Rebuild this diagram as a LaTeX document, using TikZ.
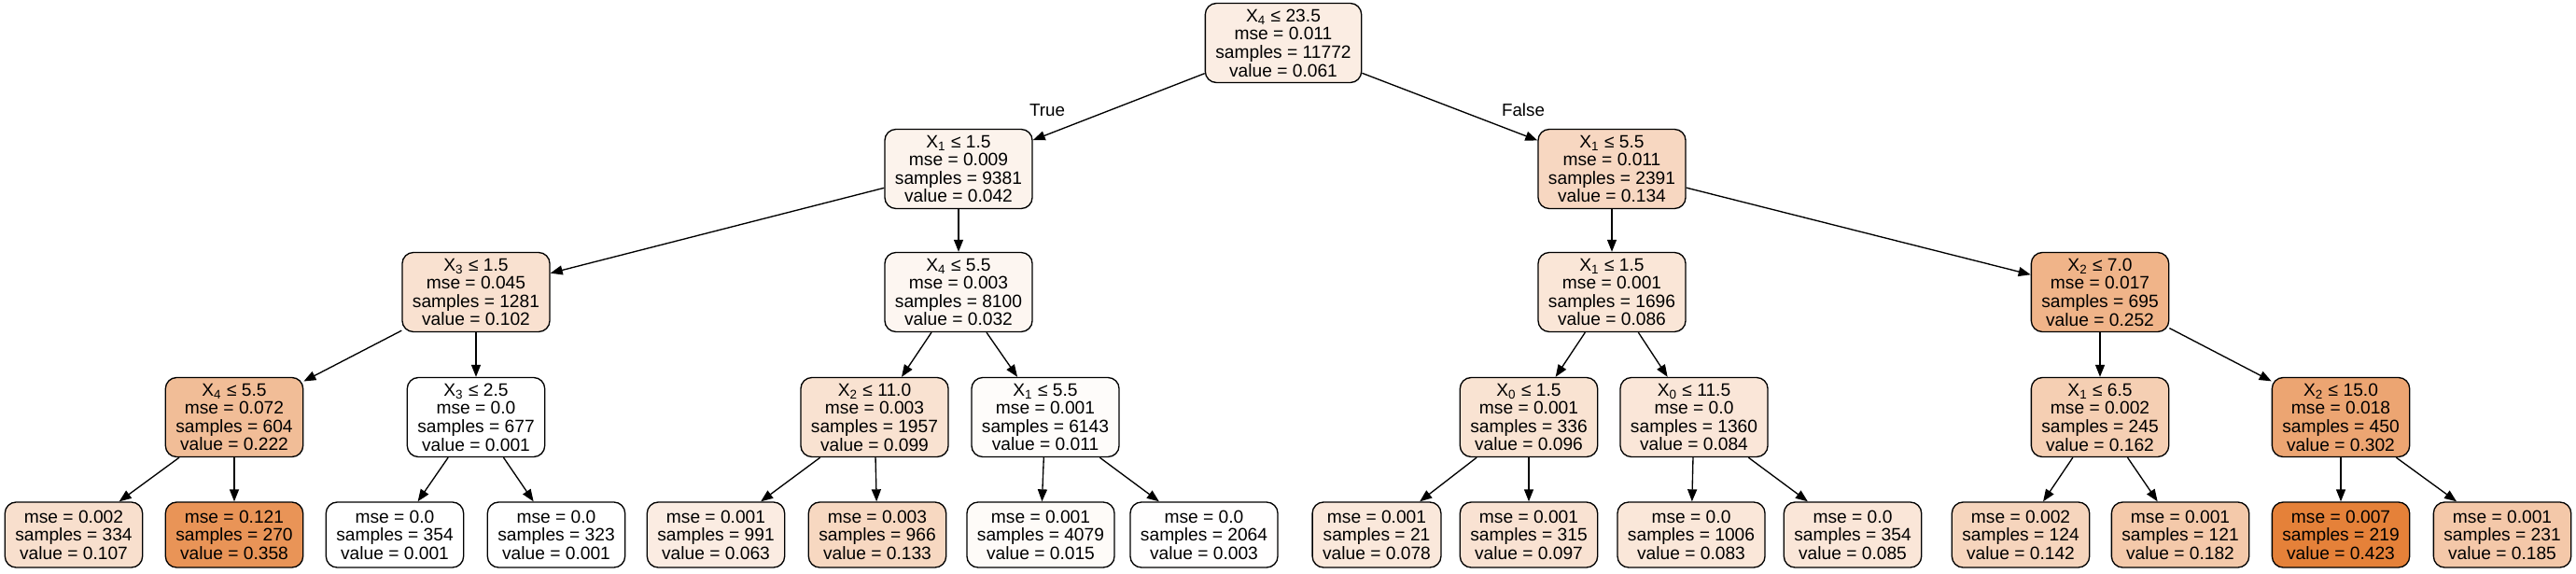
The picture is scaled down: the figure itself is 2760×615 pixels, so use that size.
\documentclass[tikz,border=0pt]{standalone}
\usepackage{fontspec}
\setmainfont{Liberation Sans}
\usetikzlibrary{arrows.meta}
\definecolor{orng}{RGB}{229,129,57}
\tikzset{
  tn/.style={draw=black, line width=0.67pt, rounded corners=6pt, align=center,
    inner xsep=5.5pt, inner ysep=0pt, font=\fontsize{9.6}{9.8}\selectfont},
  inner/.style={tn, minimum height=42.5pt},
  leaf/.style={tn, minimum height=35pt},
  edge/.style={line width=0.67pt, -{Triangle[length=6.5pt,width=5pt]}},
  elab/.style={font=\fontsize{9.4}{9.6}\selectfont, inner sep=0pt}
}
\newcommand{\Xs}[1]{X\textsubscript{#1}}
\begin{document}
\begin{tikzpicture}[x=0.5pt, y=-0.5pt]
\useasboundingbox[fill=white] (0,0) rectangle (2760,615);
% level 0
\node[inner, fill=orng!14.2!white] (n0) at (1375,46) {\Xs{4} ≤ 23.5\\mse = 0.011\\samples = 11772\\value = 0.061};
% level 1
\node[inner, fill=orng!9.7!white] (n1) at (1027,181) {\Xs{1} ≤ 1.5\\mse = 0.009\\samples = 9381\\value = 0.042};
\node[inner, fill=orng!31.5!white] (n2) at (1727,181) {\Xs{1} ≤ 5.5\\mse = 0.011\\samples = 2391\\value = 0.134};
% level 2
\node[inner, fill=orng!23.9!white] (n3) at (510,313) {\Xs{3} ≤ 1.5\\mse = 0.045\\samples = 1281\\value = 0.102};
\node[inner, fill=orng!7.3!white] (n4) at (1027,313) {\Xs{4} ≤ 5.5\\mse = 0.003\\samples = 8100\\value = 0.032};
\node[inner, fill=orng!20.1!white] (n5) at (1727,313) {\Xs{1} ≤ 1.5\\mse = 0.001\\samples = 1696\\value = 0.086};
\node[inner, fill=orng!59.5!white] (n6) at (2250,313) {\Xs{2} ≤ 7.0\\mse = 0.017\\samples = 695\\value = 0.252};
% level 3
\node[inner, fill=orng!52.4!white] (n7) at (251,447) {\Xs{4} ≤ 5.5\\mse = 0.072\\samples = 604\\value = 0.222};
\node[inner, fill=white] (n8) at (510,447) {\Xs{3} ≤ 2.5\\mse = 0.0\\samples = 677\\value = 0.001};
\node[inner, fill=orng!23.2!white] (n9) at (937,447) {\Xs{2} ≤ 11.0\\mse = 0.003\\samples = 1957\\value = 0.099};
\node[inner, fill=orng!2.4!white] (n10) at (1120,447) {\Xs{1} ≤ 5.5\\mse = 0.001\\samples = 6143\\value = 0.011};
\node[inner, fill=orng!22.5!white] (n11) at (1638,447) {\Xs{0} ≤ 1.5\\mse = 0.001\\samples = 336\\value = 0.096};
\node[inner, fill=orng!19.7!white] (n12) at (1815,447) {\Xs{0} ≤ 11.5\\mse = 0.0\\samples = 1360\\value = 0.084};
\node[inner, fill=orng!38.2!white] (n13) at (2250,447) {\Xs{1} ≤ 6.5\\mse = 0.002\\samples = 245\\value = 0.162};
\node[inner, fill=orng!71.3!white] (n14) at (2508,447) {\Xs{2} ≤ 15.0\\mse = 0.018\\samples = 450\\value = 0.302};
% leaves
\node[leaf, fill=orng!25.1!white] (l1) at (79,573) {mse = 0.002\\samples = 334\\value = 0.107};
\node[leaf, fill=orng!84.6!white] (l2) at (251,573) {mse = 0.121\\samples = 270\\value = 0.358};
\node[leaf, fill=white] (l3) at (423,573) {mse = 0.0\\samples = 354\\value = 0.001};
\node[leaf, fill=white] (l4) at (596,573) {mse = 0.0\\samples = 323\\value = 0.001};
\node[leaf, fill=orng!14.7!white] (l5) at (767,573) {mse = 0.001\\samples = 991\\value = 0.063};
\node[leaf, fill=orng!31.3!white] (l6) at (940,573) {mse = 0.003\\samples = 966\\value = 0.133};
\node[leaf, fill=orng!3.3!white] (l7) at (1115,573) {mse = 0.001\\samples = 4079\\value = 0.015};
\node[leaf, fill=orng!0.5!white] (l8) at (1290,573) {mse = 0.0\\samples = 2064\\value = 0.003};
\node[leaf, fill=orng!18.2!white] (l9) at (1475,573) {mse = 0.001\\samples = 21\\value = 0.078};
\node[leaf, fill=orng!22.7!white] (l10) at (1638,573) {mse = 0.001\\samples = 315\\value = 0.097};
\node[leaf, fill=orng!19.4!white] (l11) at (1812,573) {mse = 0.0\\samples = 1006\\value = 0.083};
\node[leaf, fill=orng!19.9!white] (l12) at (1985,573) {mse = 0.0\\samples = 354\\value = 0.085};
\node[leaf, fill=orng!33.4!white] (l13) at (2165,573) {mse = 0.002\\samples = 124\\value = 0.142};
\node[leaf, fill=orng!42.9!white] (l14) at (2336,573) {mse = 0.001\\samples = 121\\value = 0.182};
\node[leaf, fill=orng!100!white] (l15) at (2508,573) {mse = 0.007\\samples = 219\\value = 0.423};
\node[leaf, fill=orng!43.6!white] (l16) at (2681,573) {mse = 0.001\\samples = 231\\value = 0.185};
% edges
\draw[edge] (n0) -- (n1);
\draw[edge] (n0) -- (n2);
\draw[edge] (n1) -- (n3);
\draw[edge] (n1) -- (n4);
\draw[edge] (n2) -- (n5);
\draw[edge] (n2) -- (n6);
\draw[edge] (n3) -- (n7);
\draw[edge] (n3) -- (n8);
\draw[edge] (n4) -- (n9);
\draw[edge] (n4) -- (n10);
\draw[edge] (n5) -- (n11);
\draw[edge] (n5) -- (n12);
\draw[edge] (n6) -- (n13);
\draw[edge] (n6) -- (n14);
\draw[edge] (n7) -- (l1);
\draw[edge] (n7) -- (l2);
\draw[edge] (n8) -- (l3);
\draw[edge] (n8) -- (l4);
\draw[edge] (n9) -- (l5);
\draw[edge] (n9) -- (l6);
\draw[edge] (n10) -- (l7);
\draw[edge] (n10) -- (l8);
\draw[edge] (n11) -- (l9);
\draw[edge] (n11) -- (l10);
\draw[edge] (n12) -- (l11);
\draw[edge] (n12) -- (l12);
\draw[edge] (n13) -- (l13);
\draw[edge] (n13) -- (l14);
\draw[edge] (n14) -- (l15);
\draw[edge] (n14) -- (l16);
% edge labels
\node[elab] (tl) at (1122,118) {True};
\node[elab] (fl) at (1632,118) {False};
\end{tikzpicture}
\end{document}
